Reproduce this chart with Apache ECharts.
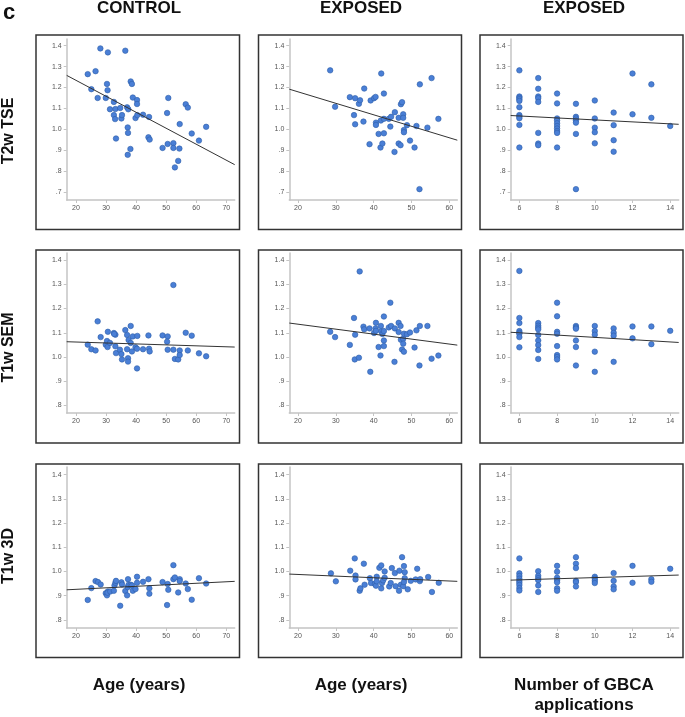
<!DOCTYPE html>
<html><head><meta charset="utf-8">
<script src="https://cdn.jsdelivr.net/npm/echarts@6.0.0/dist/echarts.min.js"></script>
<style>html,body{margin:0;padding:0;background:#fff}#c{width:685px;height:717px}</style>
</head><body><div id="c"></div>
<script>
// ---------- DATA ----------
const columnTitles = ['CONTROL', 'EXPOSED', 'EXPOSED'];
const rowTitles = ['T2w TSE', 'T1w SEM', 'T1w 3D'];
const xTitles = [['Age (years)'], ['Age (years)'], ['Number of GBCA', 'applications']];
const xTicksAge70 = [20, 30, 40, 50, 60, 70];
const xTicksAge60 = [20, 30, 40, 50, 60];
const xTicksGbca = [6, 8, 10, 12, 14];
const yTicksRow1 = [0.7, 0.8, 0.9, 1.0, 1.1, 1.2, 1.3, 1.4];
const yTicksRow23 = [0.8, 0.9, 1.0, 1.1, 1.2, 1.3, 1.4];

const t2wControl = [[23.9,1.264],[25.1,1.192],[26.5,1.278],[27.2,1.15],[28.1,1.387],[29.9,1.15],[30.3,1.217],[30.6,1.368],[30.5,1.187],[31.3,1.096],[32.6,1.131],[33.1,1.097],[32.6,1.068],[33.0,1.049],[33.3,0.956],[34.7,1.102],[35.1,1.052],[35.3,1.068],[36.4,1.376],[37.0,1.105],[37.4,1.096],[37.2,1.009],[37.3,0.983],[37.2,0.878],[38.1,0.906],[38.2,1.229],[38.6,1.217],[38.9,1.152],[39.8,1.054],[40.3,1.140],[40.3,1.121],[40.4,1.068],[42.3,1.070],[44.3,1.059],[44.1,0.962],[44.5,0.951],[48.8,0.911],[50.5,0.930],[50.3,1.078],[50.7,1.150],[52.4,0.934],[52.4,0.911],[52.9,0.818],[54.0,0.849],[54.4,0.908],[54.5,1.025],[56.5,1.120],[57.2,1.104],[58.5,0.980],[60.9,0.946],[63.3,1.012]];
const t2wControlFit = [[16.9,1.258],[72.8,0.831]];

const t1wSemControl = [[23.9,1.051],[25.1,1.032],[26.5,1.027],[27.2,1.147],[28.2,1.082],[29.9,1.051],[30.3,1.066],[30.6,1.104],[30.5,1.041],[31.3,1.058],[32.6,1.099],[33.1,1.092],[32.7,1.095],[33.1,1.044],[33.3,1.016],[34.6,1.030],[35.1,1.012],[35.3,0.990],[36.4,1.111],[37.0,1.091],[37.5,1.070],[37.0,1.032],[37.3,0.995],[37.3,0.981],[38.2,1.128],[38.2,1.058],[38.6,1.023],[38.9,1.085],[39.8,1.040],[40.3,1.034],[40.4,1.087],[40.3,0.953],[42.3,1.032],[44.1,1.089],[44.3,1.034],[44.5,1.023],[48.8,1.089],[50.5,1.085],[50.3,1.063],[50.5,1.030],[52.4,1.297],[52.4,1.030],[52.9,0.992],[54.0,0.990],[54.5,1.027],[54.5,1.008],[56.5,1.100],[57.2,1.027],[58.5,1.088],[60.9,1.015],[63.3,1.003]];
const t1wSemControlFit = [[16.9,1.063],[72.8,1.041]];

const t1w3dControl = [[23.9,0.882],[25.1,0.931],[26.5,0.960],[27.3,0.956],[28.2,0.946],[29.9,0.910],[30.3,0.901],[30.6,0.917],[30.5,0.912],[31.4,0.917],[32.6,0.920],[32.8,0.942],[33.1,0.953],[33.3,0.961],[34.7,0.858],[35.1,0.955],[35.3,0.946],[36.4,0.919],[37.0,0.901],[37.2,0.935],[37.3,0.968],[37.5,0.945],[38.2,0.945],[38.6,0.942],[38.9,0.920],[39.8,0.927],[40.3,0.978],[40.3,0.953],[42.3,0.957],[44.1,0.968],[44.4,0.930],[44.4,0.908],[48.8,0.956],[50.5,0.948],[50.3,0.861],[50.7,0.924],[52.4,1.026],[52.4,0.968],[52.9,0.975],[54.0,0.913],[54.5,0.968],[54.5,0.960],[56.5,0.950],[57.2,0.927],[58.5,0.883],[60.9,0.972],[63.3,0.950]];
const t1w3dControlFit = [[16.9,0.924],[72.8,0.959]];

const t2wExposedAge = [[28.5,1.282],[29.8,1.108],[33.7,1.154],[34.8,1.068],[35.1,1.149],[35.1,1.024],[36.1,1.122],[36.4,1.139],[37.3,1.037],[37.5,1.195],[38.9,0.929],[39.2,1.138],[40.1,1.149],[40.5,1.155],[40.6,1.032],[40.6,1.021],[41.3,0.978],[41.8,0.913],[41.9,1.042],[42.0,1.267],[42.3,0.932],[42.7,1.050],[42.7,0.981],[42.7,1.171],[44.0,1.050],[44.4,1.013],[44.6,1.060],[45.5,0.892],[45.6,1.082],[46.6,0.932],[46.6,1.055],[47.1,0.924],[47.2,1.120],[47.5,1.130],[47.8,1.072],[47.8,1.055],[48.0,0.997],[48.0,0.986],[48.8,1.020],[49.6,0.946],[50.8,0.913],[51.3,1.016],[52.2,1.215],[52.1,0.714],[54.2,1.008],[55.3,1.245],[57.1,1.050]];
const t2wExposedAgeFit = [[17.7,1.192],[62.1,0.948]];

const t1wSemExposedAge = [[28.5,1.104],[29.8,1.082],[33.7,1.050],[34.8,1.161],[35.1,1.092],[35.0,0.990],[36.1,0.997],[36.3,1.353],[37.3,1.125],[37.5,1.114],[38.9,1.118],[39.1,0.939],[40.1,1.099],[40.5,1.118],[40.6,1.108],[40.6,1.141],[41.3,1.041],[41.8,1.006],[41.9,1.128],[42.0,1.106],[42.3,1.095],[42.7,1.167],[42.7,1.107],[42.7,1.068],[42.7,1.045],[44.0,1.122],[44.4,1.224],[44.6,1.128],[45.5,0.980],[45.6,1.118],[46.6,1.141],[46.6,1.103],[47.1,1.128],[47.2,1.071],[47.5,1.031],[47.8,1.075],[47.8,1.055],[48.0,1.096],[48.0,1.022],[48.8,1.094],[49.6,1.101],[50.8,1.039],[51.3,1.110],[52.2,1.128],[52.1,0.965],[54.2,1.128],[55.3,0.993],[57.1,1.006]];
const t1wSemExposedAgeFit = [[17.7,1.140],[62.1,1.049]];

const t1w3dExposedAge = [[28.7,0.992],[30.0,0.959],[33.8,1.003],[35.0,1.054],[35.2,0.983],[35.2,0.967],[36.3,0.920],[36.5,0.930],[37.4,1.032],[37.6,0.945],[39.0,0.972],[39.3,0.952],[40.3,0.948],[40.6,0.941],[40.8,0.978],[40.8,0.959],[41.5,1.015],[42.0,1.025],[42.0,0.930],[42.2,0.952],[42.5,0.963],[42.9,1.000],[42.9,0.974],[44.1,0.938],[44.5,0.952],[44.8,1.014],[45.6,0.993],[45.8,0.939],[46.7,0.920],[46.8,1.003],[47.2,0.945],[47.5,1.059],[47.8,0.939],[48.0,1.022],[48.2,0.997],[48.2,0.972],[48.0,0.956],[49.0,0.926],[49.8,0.961],[51.1,0.967],[51.5,1.011],[52.2,0.960],[52.3,0.968],[54.4,0.977],[55.4,0.915],[57.2,0.953]];
const t1w3dExposedAgeFit = [[17.7,0.989],[62.1,0.959]];

const t2wGbca = [[6,1.282],[6,1.157],[6,1.151],[6,1.144],[6,1.136],[6,1.106],[6,1.068],[6,1.061],[6,1.053],[6,1.021],[6,0.913],[7,1.245],[7,1.194],[7,1.157],[7,1.149],[7,1.131],[7,0.983],[7,0.932],[7,0.924],[8,1.171],[8,1.124],[8,1.052],[8,1.042],[8,1.029],[8,1.016],[8,1.004],[8,0.992],[8,0.983],[8,0.913],[9,1.122],[9,1.060],[9,1.052],[9,1.042],[9,1.032],[9,0.978],[9,0.714],[10,1.138],[10,1.052],[10,1.008],[10,0.986],[10,0.933],[11,1.080],[11,1.020],[11,0.948],[11,0.893],[12,1.267],[12,1.072],[13,1.215],[13,1.055],[14,1.016]];
const t2wGbcaFit = [[5.54,1.066],[14.45,1.024]];

const t1wSemGbca = [[6,1.355],[6,1.161],[6,1.140],[6,1.107],[6,1.100],[6,1.096],[6,1.082],[6,1.040],[7,1.140],[7,1.129],[7,1.121],[7,1.114],[7,1.091],[7,1.068],[7,1.049],[7,1.029],[7,0.992],[8,1.224],[8,1.168],[8,1.104],[8,1.096],[8,1.045],[8,1.008],[8,1.000],[8,0.990],[9,1.128],[9,1.122],[9,1.117],[9,1.068],[9,1.041],[9,0.965],[10,1.128],[10,1.107],[10,1.092],[10,1.022],[10,0.939],[11,1.118],[11,1.100],[11,1.088],[11,0.980],[12,1.126],[12,1.077],[13,1.126],[13,1.053],[14,1.108]];
const t1wSemGbcaFit = [[5.54,1.102],[14.45,1.060]];

const t1w3dGbca = [[6,1.054],[6,0.992],[6,0.981],[6,0.970],[6,0.961],[6,0.953],[6,0.944],[6,0.931],[6,0.921],[7,1.001],[7,0.982],[7,0.972],[7,0.964],[7,0.942],[7,0.915],[8,1.023],[8,0.999],[8,0.974],[8,0.964],[8,0.955],[8,0.930],[8,0.920],[9,1.059],[9,1.032],[9,1.014],[9,0.961],[9,0.956],[9,0.938],[10,0.978],[10,0.970],[10,0.961],[10,0.952],[11,0.993],[11,0.961],[11,0.938],[11,0.926],[12,1.023],[12,0.953],[13,0.968],[13,0.957],[14,1.011]];
const t1w3dGbcaFit = [[5.54,0.964],[14.45,0.985]];

// ---------- LAYOUT ----------
const panelPoints = [
  [t2wControl, t2wExposedAge, t2wGbca],
  [t1wSemControl, t1wSemExposedAge, t1wSemGbca],
  [t1w3dControl, t1w3dExposedAge, t1w3dGbca]
];
const panelFits = [
  [t2wControlFit, t2wExposedAgeFit, t2wGbcaFit],
  [t1wSemControlFit, t1wSemExposedAgeFit, t1wSemGbcaFit],
  [t1w3dControlFit, t1w3dExposedAgeFit, t1w3dGbcaFit]
];
const colXTicks = [xTicksAge70, xTicksAge60, xTicksGbca];
const rowYTicks = [yTicksRow1, yTicksRow23, yTicksRow23];
const colXRange = [[16.9, 72.8], [17.7, 62.1], [5.54, 14.45]];
const rowYRange = [[0.662, 1.432], [0.769, 1.429], [0.766, 1.432]];
const colLeft = [66.7, 289.3, 510.7];
const colWidth = 168;
const rowTop = [39, 253, 467];
const rowHeight = [161, 160, 161];
const frameX = [36, 258.5, 480], frameW = [203.5, 203, 203];
const frameY = [35, 250, 464], frameH = [194.5, 193, 193.5];
const colCenter = [139, 361, 584];
const rowCenter = [131, 347.5, 556];

const FONT = '"Liberation Sans", Arial, sans-serif';
const axisGray = '#c4c4c4';
const grids = [], xAxes = [], yAxes = [], series = [], graphics = [];
const fmtY = v => { const s = (+v).toFixed(1); return s.startsWith('0') ? s.slice(1) : s; };

for (let r = 0; r < 3; r++) {
  for (let c = 0; c < 3; c++) {
    const i = grids.length;
    grids.push({ left: colLeft[c], top: rowTop[r], width: colWidth, height: rowHeight[r], containLabel: false });
    xAxes.push({
      type: 'value', gridIndex: i, min: colXRange[c][0], max: colXRange[c][1],
      axisLine: { show: true, onZero: false, lineStyle: { color: axisGray, width: 1.5 } },
      axisTick: { show: true, length: 3, customValues: colXTicks[c], lineStyle: { color: axisGray } },
      axisLabel: { customValues: colXTicks[c], fontSize: 7, color: '#555', margin: 5, fontFamily: FONT },
      splitLine: { show: false }
    });
    yAxes.push({
      type: 'value', gridIndex: i, min: rowYRange[r][0], max: rowYRange[r][1],
      axisLine: { show: true, onZero: false, lineStyle: { color: axisGray, width: 1.5 } },
      axisTick: { show: true, length: 3, customValues: rowYTicks[r], lineStyle: { color: axisGray } },
      axisLabel: { customValues: rowYTicks[r], fontSize: 7, color: '#555', margin: 5, fontFamily: FONT, formatter: fmtY },
      splitLine: { show: false }
    });
    series.push({
      type: 'scatter', xAxisIndex: i, yAxisIndex: i, data: panelPoints[r][c],
      symbolSize: 5.5, silent: true,
      itemStyle: { color: '#4a7fd6', borderColor: '#2e5ea8', borderWidth: 0.6, opacity: 1 }
    });
    series.push({
      type: 'line', xAxisIndex: i, yAxisIndex: i, data: panelFits[r][c],
      showSymbol: false, silent: true, z: 3,
      lineStyle: { color: '#333', width: 1 }
    });
    graphics.push({
      type: 'rect', shape: { x: frameX[c], y: frameY[r], width: frameW[c], height: frameH[r] },
      style: { fill: 'none', stroke: '#333', lineWidth: 1.5 }, silent: true
    });
  }
}
graphics.push({ type: 'text', x: 9, y: 13, style: { text: 'c', font: 'bold 22px ' + FONT, fill: '#111', textAlign: 'center', textVerticalAlign: 'middle' } });
for (let c = 0; c < 3; c++) {
  graphics.push({ type: 'text', x: colCenter[c], y: 8, style: { text: columnTitles[c], font: 'bold 17px ' + FONT, fill: '#111', textAlign: 'center', textVerticalAlign: 'middle' } });
  xTitles[c].forEach((t, k) => {
    graphics.push({ type: 'text', x: colCenter[c], y: 685 + k * 20, style: { text: t, font: 'bold 17px ' + FONT, fill: '#111', textAlign: 'center', textVerticalAlign: 'middle' } });
  });
}
for (let r = 0; r < 3; r++) {
  graphics.push({ type: 'text', x: 8.5, y: rowCenter[r], rotation: Math.PI / 2, style: { text: rowTitles[r], font: 'bold 16px ' + FONT, fill: '#111', textAlign: 'center', textVerticalAlign: 'middle' } });
}

const chart = echarts.init(document.getElementById('c'), null, { renderer: 'canvas' });
chart.setOption({
  animation: false,
  backgroundColor: '#fff',
  grid: grids, xAxis: xAxes, yAxis: yAxes, series: series,
  graphic: { elements: graphics }
});
</script>
</body></html>
